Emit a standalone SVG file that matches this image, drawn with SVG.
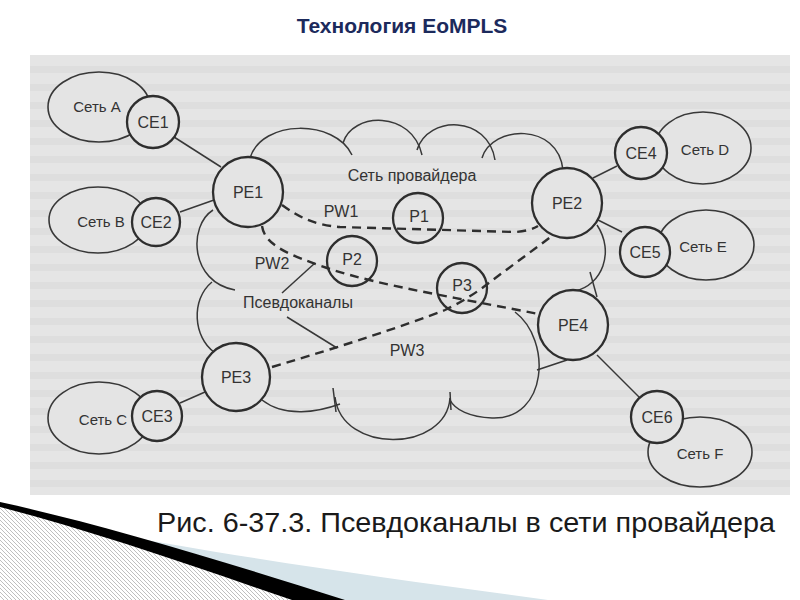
<svg xmlns="http://www.w3.org/2000/svg" width="800" height="600" viewBox="0 0 800 600">
<defs>
<style>
.bg{fill:#e3e3e3}
.ln{fill:none;stroke:#383838;stroke-width:1.5}
.nd{fill:#e4e4e4;stroke:#2e2e2e;stroke-width:2.3}
.pn{fill:none;stroke:#2e2e2e;stroke-width:2.3}
.el{fill:#e4e4e4;stroke:#383838;stroke-width:1.6}
.pw{fill:none;stroke:#2e2e2e;stroke-width:2.4;stroke-dasharray:9 6}
.t{font-family:"Liberation Sans",Arial,sans-serif;font-size:16px;fill:#333;text-anchor:middle;dominant-baseline:central}
.s{font-size:15px}
</style>
<pattern id="hatch" width="4" height="4" patternUnits="userSpaceOnUse">
<rect width="4" height="4" fill="#fff"/>
<path d="M0,0 L4,4 M-1,3 L1,5 M3,-1 L5,1" stroke="#b8b8b8" stroke-width="0.9"/>
</pattern>
<pattern id="rows" width="760" height="18" patternUnits="userSpaceOnUse" x="30" y="60">
<rect width="760" height="18" fill="#e5e5e5"/>
<rect y="6" width="760" height="7" fill="#dedede"/>
</pattern>
</defs>
<rect width="800" height="600" fill="#fff"/>
<text x="402" y="33" font-family="'Liberation Sans',Arial,sans-serif" font-size="21" font-weight="bold" fill="#1c2a5c" text-anchor="middle">Технология EoMPLS</text>
<rect x="30" y="55" width="760" height="440" fill="url(#rows)"/>

<g id="connectors">
<path class="ln" d="M250,158 C262,119 335,119 352,155"/>
<path class="ln" d="M343,143 C352,112 412,110 422,155"/>
<path class="ln" d="M417,150 C428,115 488,115 495,160"/>
<path class="ln" d="M482,158 C492,125 558,122 563,170"/>
<path class="ln" d="M597,225 C615,252 602,285 575,291"/>
<path class="ln" d="M590,272 L597,297"/>
<path class="ln" d="M567,360 L537,370"/>
<path class="ln" d="M515,312 C552,340 548,420 492,418 C470,417 455,410 450,400"/>
<path class="ln" d="M450,392 L451,410"/>
<path class="ln" d="M450,398 C446,452 342,455 335,397"/>
<path class="ln" d="M333,388 L336,412"/>
<path class="ln" d="M262,400 C285,418 318,412 340,404"/>
<path class="ln" d="M213,210 C188,226 190,282 235,290"/>
<path class="ln" d="M212,282 C190,300 194,338 214,352"/>
<path class="ln" d="M282,293 L315,263"/>
<path class="ln" d="M287,317 L337,348"/>
<path class="ln" d="M174,137 L221,167"/>
<path class="ln" d="M180,212 L214,200"/>
<path class="ln" d="M180,403 L205,392"/>
<path class="ln" d="M593,178 L617,166"/>
<path class="ln" d="M598,220 L622,232"/>
<path class="ln" d="M597,355 L640,398"/>
<path class="pw" d="M282,205 C300,218 315,225 340,227 L515,232 Q530,231 538,226"/>
<path class="pw" d="M262,226 C265,246 290,255 327,268 C380,286 470,300 538,314"/>
<path class="pw" d="M272,367 Q380,335 445,310 Q470,298 490,282 L552,236"/>
</g>

<g id="netA"><ellipse class="el" cx="99" cy="107" rx="51" ry="35"/><text class="t s" x="97" y="106">Сеть A</text></g>
<g id="netB"><ellipse class="el" cx="98" cy="220" rx="49" ry="33"/><text class="t s" x="101" y="221">Сеть B</text></g>
<g id="netC"><ellipse class="el" cx="99" cy="418" rx="51" ry="36"/><text class="t s" x="103" y="419">Сеть C</text></g>
<g id="netD"><ellipse class="el" cx="703" cy="148" rx="48" ry="36"/><text class="t s" x="705" y="149">Сеть D</text></g>
<g id="netE"><ellipse class="el" cx="706" cy="245" rx="48" ry="35"/><text class="t s" x="703" y="246">Сеть E</text></g>
<g id="netF"><ellipse class="el" cx="700" cy="452" rx="52" ry="35"/><text class="t s" x="700" y="453">Сеть F</text></g>

<g id="CE1"><circle class="nd" cx="153" cy="122" r="26"/><text class="t" x="153" y="122">CE1</text></g>
<g id="CE2"><circle class="nd" cx="156" cy="222" r="24"/><text class="t" x="156" y="222">CE2</text></g>
<g id="CE3"><circle class="nd" cx="157" cy="416" r="25"/><text class="t" x="157" y="416">CE3</text></g>
<g id="CE4"><circle class="nd" cx="641" cy="153" r="26"/><text class="t" x="641" y="153">CE4</text></g>
<g id="CE5"><circle class="nd" cx="645" cy="252" r="25"/><text class="t" x="645" y="252">CE5</text></g>
<g id="CE6"><circle class="nd" cx="657" cy="417" r="26"/><text class="t" x="657" y="417">CE6</text></g>

<g id="PE1"><circle class="nd" cx="248" cy="192" r="35"/><text class="t" x="248" y="192">PE1</text></g>
<g id="PE2"><circle class="nd" cx="567" cy="203" r="35"/><text class="t" x="567" y="203">PE2</text></g>
<g id="PE3"><circle class="nd" cx="236" cy="377" r="34"/><text class="t" x="236" y="377">PE3</text></g>
<g id="PE4"><circle class="nd" cx="573" cy="325" r="35"/><text class="t" x="573" y="325">PE4</text></g>

<g id="P1"><circle class="pn" cx="418" cy="218" r="25"/><text class="t" x="419" y="216">P1</text></g>
<g id="P2"><circle class="pn" cx="352" cy="261" r="25"/><text class="t" x="352" y="259">P2</text></g>
<g id="P3"><circle class="pn" cx="462" cy="288" r="25"/><text class="t" x="462" y="285">P3</text></g>

<g id="labels">
<text class="t" x="412" y="175">Сеть провайдера</text>
<text class="t" x="341" y="211">PW1</text>
<text class="t" x="272" y="263">PW2</text>
<text class="t" x="407" y="350">PW3</text>
<text class="t" x="298" y="302">Псевдоканалы</text>
</g>

<g id="decor">
<path d="M0,506 C90,530 190,565 292,600 L0,600 Z" fill="url(#hatch)"/>
<path d="M80,528 C250,560 400,580 548,600 L335,600 C240,572 160,546 80,528 Z" fill="#d6e4ea"/>
<path d="M0,502 C100,524 220,560 345,600 L292,600 C190,565 90,530 0,507 Z" fill="#000"/>
</g>
<text x="157" y="532" font-family="'Liberation Sans',Arial,sans-serif" font-size="28.5" fill="#1a1a1a" textLength="618" lengthAdjust="spacingAndGlyphs">Рис. 6-37.3. Псевдоканалы в сети провайдера</text>
</svg>
